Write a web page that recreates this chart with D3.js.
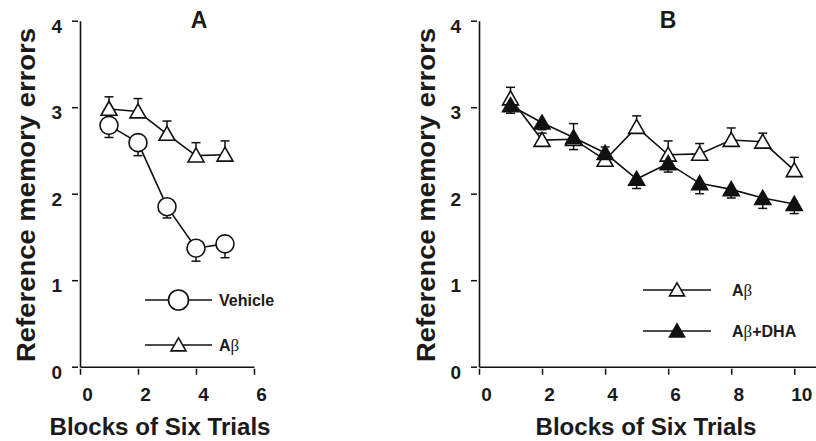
<!DOCTYPE html>
<html><head><meta charset="utf-8">
<script src="https://cdn.jsdelivr.net/npm/d3@7/dist/d3.min.js"></script>
<style>
body{margin:0;background:#fff;}
text{font-family:"Liberation Sans",Arial,sans-serif;font-weight:bold;fill:#1a1a1a;}
</style></head><body>
<svg id="c" width="816" height="441"></svg>
<script>
// Panel A
const blocksA = [1, 2, 3, 4, 5];
const vehicleA = [2.79, 2.59, 1.85, 1.37, 1.42];
const vehicleSE = [0.14, 0.15, 0.13, 0.15, 0.16];
const abA = [2.98, 2.95, 2.69, 2.44, 2.45];
const abASE = [0.14, 0.15, 0.15, 0.15, 0.16];
// Panel B
const blocksB = [1, 2, 3, 4, 5, 6, 7, 8, 9, 10];
const abB = [3.10, 2.62, 2.63, 2.39, 2.77, 2.45, 2.46, 2.62, 2.60, 2.27];
const abBSE = [0.13, 0.08, 0.18, 0.15, 0.13, 0.16, 0.12, 0.14, 0.10, 0.15];
const dhaB = [3.02, 2.82, 2.65, 2.47, 2.17, 2.35, 2.12, 2.05, 1.95, 1.88];
const dhaBSE = [0.09, 0.08, 0.14, 0.08, 0.11, 0.10, 0.12, 0.10, 0.12, 0.11];
// ticks
const yTicks = [0, 1, 2, 3, 4];
const xTicksA = [0, 2, 4, 6];
const xTicksB = [0, 2, 4, 6, 8, 10];

const svg = d3.select("#c");
const y = d3.scaleLinear().domain([0, 4]).range([366.7, 20.7]);

function triPath(cx, cy, w, h) {
  return `M${cx},${cy - h * 0.55}L${cx + w / 2},${cy + h * 0.45}L${cx - w / 2},${cy + h * 0.45}Z`;
}

function panel(opts) {
  const g = svg.append("g");
  const x = opts.x;
  // y axis
  const ya = g.append("g").attr("transform", `translate(${x.range()[0]},0)`)
    .call(d3.axisLeft(y).tickValues(yTicks).tickSizeOuter(0).tickFormat(d3.format("d")));
  ya.select(".domain").attr("stroke", "#111").attr("stroke-width", 1.6);
  ya.selectAll(".tick line").attr("x1", -2).attr("x2", -8).attr("stroke", "#111").attr("stroke-width", 1.5);
  ya.selectAll(".tick text").attr("x", -18).attr("dy", "0.35em").attr("y", 5)
    .style("font-size", "19px").style("font-family", null).attr("fill", "#1a1a1a");
  // x axis
  const xa = g.append("g").attr("transform", `translate(0,${y(0)})`)
    .call(d3.axisBottom(x).tickValues(opts.xTicks).tickSizeOuter(0).tickFormat(d3.format("d")));
  xa.select(".domain").attr("stroke", "#111").attr("stroke-width", 1.6);
  xa.selectAll(".tick line").attr("y1", 2).attr("y2", 8).attr("stroke", "#111").attr("stroke-width", 1.5);
  xa.selectAll(".tick text").attr("y", 21).attr("dy", "0.71em").attr("x", 7)
    .style("font-size", "19px").style("font-family", null).attr("fill", "#1a1a1a");
  ya.attr("font-family", null); xa.attr("font-family", null);

  // titles & labels
  g.append("text").attr("x", opts.titleX).attr("y", 28).attr("text-anchor", "middle")
    .style("font-size", "23px").text(opts.title);
  g.append("text").attr("transform", `translate(${opts.ylabX},195) rotate(-90)`)
    .attr("text-anchor", "middle").style("font-size", "25px")
    .attr("textLength", 334).attr("lengthAdjust", "spacingAndGlyphs")
    .text("Reference memory errors");
  g.append("text").attr("x", opts.xlabX).attr("y", 435).attr("text-anchor", "middle")
    .style("font-size", "23px").attr("textLength", 221).attr("lengthAdjust", "spacingAndGlyphs")
    .text("Blocks of Six Trials");

  const line = d3.line().x(d => x(d[0])).y(d => y(d[1]));
  opts.series.forEach(s => {
    const pts = s.xs.map((v, i) => [v, s.vals[i], s.se[i]]);
    g.append("path").datum(pts).attr("d", line).attr("fill", "none")
      .attr("stroke", "#111").attr("stroke-width", 1.6);
  });
  // error bars
  opts.series.forEach(s => {
    s.xs.forEach((v, i) => {
      const cx = x(v), cy = y(s.vals[i]), ey = y(s.vals[i] + s.dir * s.se[i]);
      g.append("line").attr("x1", cx).attr("x2", cx).attr("y1", cy).attr("y2", ey)
        .attr("stroke", "#111").attr("stroke-width", 1.5);
      g.append("line").attr("x1", cx - 4.5).attr("x2", cx + 4.5).attr("y1", ey).attr("y2", ey)
        .attr("stroke", "#111").attr("stroke-width", 1.5);
    });
  });
  // markers
  opts.series.forEach(s => {
    s.xs.forEach((v, i) => {
      drawMarker(g, s.marker, x(v), y(s.vals[i]));
    });
  });
  // legend
  opts.legend.forEach(l => {
    g.append("line").attr("x1", l.x1).attr("x2", l.x2).attr("y1", l.y).attr("y2", l.y)
      .attr("stroke", "#111").attr("stroke-width", 1.5);
    drawMarker(g, l.marker, (l.x1 + l.x2) / 2, l.y, true);
    const t = g.append("text").attr("x", l.tx).attr("y", l.y + 6).style("font-size", "16px");
    l.parts.forEach(p => {
      const ts = t.append("tspan").text(p.t);
      if (p.greek) ts.style("font-weight", "normal").style("font-family", "'Liberation Serif','DejaVu Serif',serif").style("font-size", "17px");
    });
  });
}

function drawMarker(g, m, cx, cy, leg) {
  if (m === "circle") {
    g.append("circle").attr("cx", cx).attr("cy", cy).attr("r", leg ? 10 : 9)
      .attr("fill", "#fff").attr("stroke", "#111").attr("stroke-width", 1.6);
  } else {
    g.append("path").attr("d", triPath(cx, cy, leg ? 15 : 16, leg ? 13 : 14))
      .attr("fill", m === "tri-filled" ? "#111" : "#fff")
      .attr("stroke", "#111").attr("stroke-width", 1.6).attr("stroke-linejoin", "miter");
  }
}

panel({
  x: d3.scaleLinear().domain([0, 6]).range([80, 254]),
  xTicks: xTicksA, title: "A", titleX: 199, ylabX: 35, xlabX: 160,
  series: [
    { xs: blocksA, vals: vehicleA, se: vehicleSE, dir: -1, marker: "circle" },
    { xs: blocksA, vals: abA, se: abASE, dir: 1, marker: "tri-open" }
  ],
  legend: [
    { x1: 145, x2: 212, y: 300, marker: "circle", tx: 219, parts: [{ t: "Vehicle" }] },
    { x1: 145, x2: 212, y: 345, marker: "tri-open", tx: 219, parts: [{ t: "A" }, { t: "β", greek: true }] }
  ]
});
panel({
  x: d3.scaleLinear().domain([0, 11]).range([479, 825.8]),
  xTicks: xTicksB, title: "B", titleX: 668, ylabX: 435, xlabX: 646,
  series: [
    { xs: blocksB, vals: abB, se: abBSE, dir: 1, marker: "tri-open" },
    { xs: blocksB, vals: dhaB, se: dhaBSE, dir: -1, marker: "tri-filled" }
  ],
  legend: [
    { x1: 643, x2: 711, y: 290, marker: "tri-open", tx: 732, parts: [{ t: "A" }, { t: "β", greek: true }] },
    { x1: 643, x2: 711, y: 331, marker: "tri-filled", tx: 732, parts: [{ t: "A" }, { t: "β", greek: true }, { t: "+DHA" }] }
  ]
});
</script>
</body></html>
